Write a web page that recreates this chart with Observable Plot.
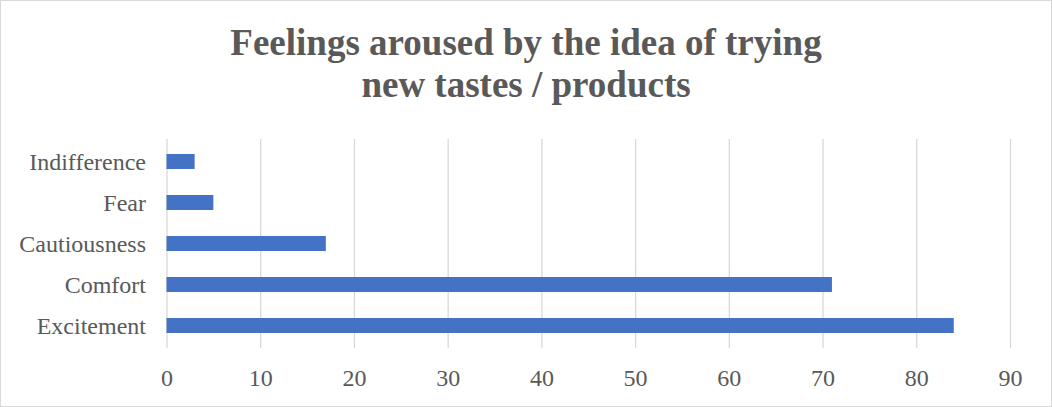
<!DOCTYPE html>
<html>
<head>
<meta charset="utf-8">
<script src="https://cdn.jsdelivr.net/npm/d3@7"></script>
<script src="https://cdn.jsdelivr.net/npm/@observablehq/plot@0.6"></script>
<style>
  html, body { margin: 0; padding: 0; background: #fff; }
  #wrap {
    width: 1052px; height: 407px; box-sizing: border-box;
    border: 1px solid #d9d9d9; background: #fff; overflow: hidden;
    font-family: "Liberation Serif", "Times New Roman", serif;
  }
  #title {
    height: 118px; box-sizing: border-box; padding-top: 21px;
    text-align: center; font-weight: bold; font-size: 37px; line-height: 42px;
    color: #595959;
  }
</style>
</head>
<body>
<div id="wrap">
  <div id="title">Feelings aroused by the idea of trying<br>new tastes / products</div>
  <div id="chart"></div>
</div>
<script>
const categories = ["Indifference", "Fear", "Cautiousness", "Comfort", "Excitement"];
const values = [3, 5, 17, 71, 84];
const xTicks = [0, 10, 20, 30, 40, 50, 60, 70, 80, 90];

const data = categories.map((c, i) => ({label: c, value: values[i]}));

const chart = Plot.plot({
  width: 1050,
  height: 286,
  marginTop: 20,
  marginBottom: 57,
  marginLeft: 165.5,
  marginRight: 41,
  style: {fontFamily: '"Liberation Serif", "Times New Roman", serif', fontSize: "24px", color: "#595959", background: "#fff"},
  x: {domain: [0, 90], ticks: xTicks},
  y: {domain: categories, paddingInner: 0.63, paddingOuter: 0.315},
  marks: [
    Plot.gridX(xTicks, {stroke: "#d9d9d9", strokeOpacity: 1, strokeWidth: 1.3}),
    Plot.barX(data, {x: "value", y: "label", fill: "#4472C4"}),
    Plot.axisX(xTicks, {tickSize: 0, tickPadding: 20, label: null, fontSize: 24}),
    Plot.axisY({tickSize: 0, tickPadding: 21, label: null, fontSize: 24})
  ]
});
document.getElementById("chart").appendChild(chart);
</script>
</body>
</html>
